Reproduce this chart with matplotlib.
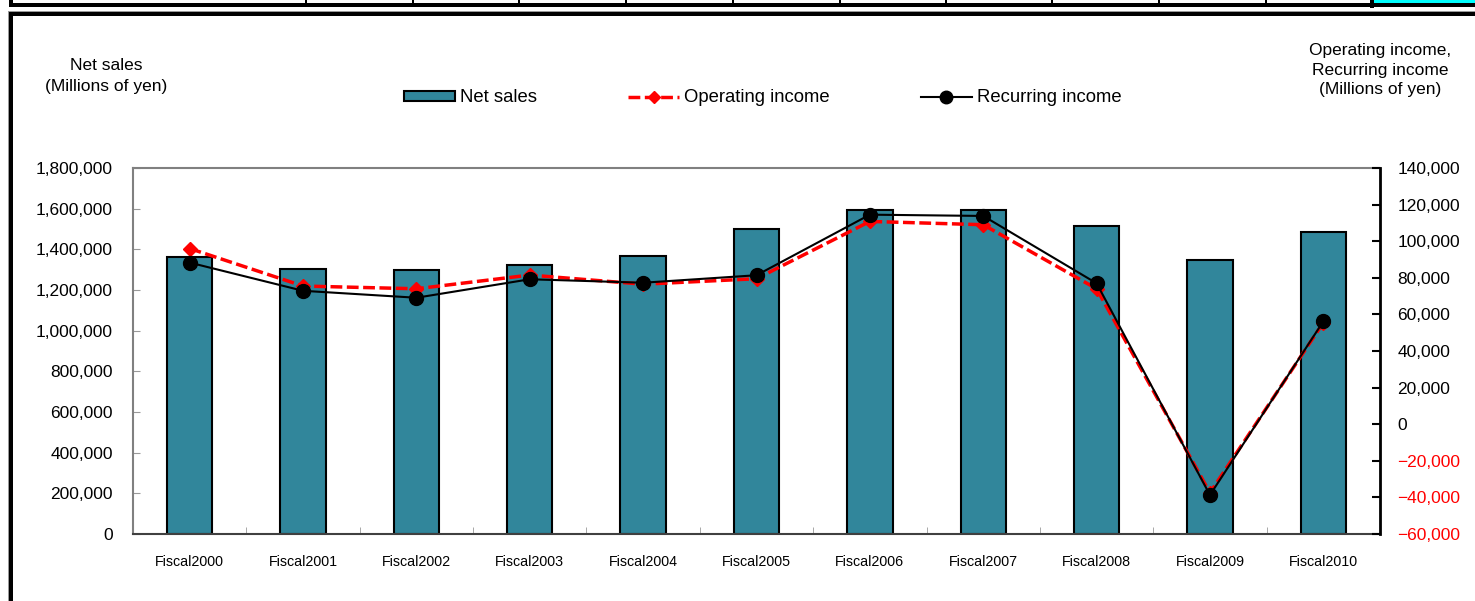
import numpy as np
import matplotlib
matplotlib.use('Agg')
import matplotlib.pyplot as plt
from matplotlib.patches import Rectangle, Patch
from matplotlib.lines import Line2D

plt.rcParams['font.family'] = ['Liberation Sans', 'DejaVu Sans']

# Data (millions of yen)
years = ['Fiscal2000', 'Fiscal2001', 'Fiscal2002', 'Fiscal2003', 'Fiscal2004', 'Fiscal2005',
         'Fiscal2006', 'Fiscal2007', 'Fiscal2008', 'Fiscal2009', 'Fiscal2010']
net_sales = [1364000, 1303000, 1298000, 1323000, 1368000, 1498000,
             1594000, 1594000, 1514000, 1350000, 1486000]
operating_income = [96000, 75500, 74000, 81500, 76500, 79500,
                    110800, 109000, 74000, -37500, 55500]
recurring_income = [88300, 72900, 69100, 79200, 77300, 81400,
                    114500, 113800, 77000, -38700, 56200]

left_ticks = list(range(0, 1800001, 200000))
right_ticks = list(range(-60000, 140001, 20000))

W, H = 1475, 601
fig = plt.figure(figsize=(W / 100, H / 100), dpi=100)


def rect(x0, y0, x1, y1, color):
    # pixel box (top-left origin) -> figure fraction rectangle
    fig.add_artist(Rectangle((x0 / W, 1 - y1 / H), (x1 - x0) / W, (y1 - y0) / H,
                             transform=fig.transFigure, facecolor=color,
                             edgecolor='none', zorder=5))


# table strip above the chart
rect(1373, 0, W, 3, '#00ffff')
rect(9, 3, W, 7, 'black')
rect(9, 0, 13, 7, 'black')
for xc in [306, 413, 519, 626, 733, 840, 946, 1052, 1159, 1266]:
    rect(xc - 1, 0, xc + 1, 7, 'black')
rect(1370, 0, 1374, 8, 'black')

# chart frame
rect(8, 11, W, 12, '#999999')
rect(9, 12, W, 16, 'black')
rect(8, 12, 9, H, '#999999')
rect(9, 12, 13, H, 'black')

ax = fig.add_axes([133 / W, 1 - 534 / H, (1380 - 133) / W, (534 - 168) / H])
x = np.arange(len(years))
ax.bar(x, net_sales, width=0.4, color='#31869B', edgecolor='black', linewidth=1.5, zorder=2)
ax.set_xlim(-0.5, len(years) - 0.5)
ax.set_ylim(0, 1800000)
ax.set_yticks(left_ticks, ['{:,}'.format(v) for v in left_ticks])
ax.set_xticks(x, years)
ax.set_xticks(np.arange(-0.5, len(years), 1), minor=True)
ax.tick_params(axis='x', which='major', length=0, pad=15, labelsize=10.3)
ax.tick_params(axis='x', which='minor', direction='in', length=5, color='#999999')
ax.tick_params(axis='y', direction='in', length=5, color='#999999', pad=14.5, labelsize=12.5)
for s in ['left', 'top']:
    ax.spines[s].set_color('#808080')
    ax.spines[s].set_linewidth(1.5)
ax.spines['bottom'].set_color('#404040')
ax.spines['bottom'].set_linewidth(1.5)
ax.spines['right'].set_visible(False)

ax2 = ax.twinx()
ax2.plot(x, operating_income, color='#ff0000', linewidth=2.5, dashes=(3.4, 1.3),
         marker='D', markersize=7, zorder=3)
ax2.plot(x, recurring_income, color='black', linewidth=1.5,
         marker='o', markersize=10, zorder=4)
ax2.set_ylim(-60000, 140000)
ax2.set_yticks(right_ticks, ['{:,}'.format(v).replace('-', '\u2212') for v in right_ticks])
ax2.tick_params(axis='y', direction='in', length=6, width=1.5, pad=12.5, labelsize=12.5)
for lab, v in zip(ax2.get_yticklabels(), right_ticks):
    lab.set_color('#ff0000' if v < 0 else 'black')
for s in ['left', 'top', 'bottom']:
    ax2.spines[s].set_visible(False)
ax2.spines['right'].set_color('black')
ax2.spines['right'].set_linewidth(2)

fig.text(106 / W, 1 - 76 / H, 'Net sales\n(Millions of yen)', ha='center', va='center',
         fontsize=12.5, linespacing=1.55)
fig.text(1380 / W, 1 - 70 / H, 'Operating income,\nRecurring income\n(Millions of yen)',
         ha='center', va='center', fontsize=12.5, linespacing=1.4)

handles = [
    Patch(facecolor='#31869B', edgecolor='black', linewidth=1.5),
    Line2D([], [], color='#ff0000', linewidth=2.5, dashes=(3.4, 1.3), marker='D', markersize=6),
    Line2D([], [], color='black', linewidth=1.5, marker='o', markersize=9),
]
fig.legend(handles, ['Net sales', 'Operating income', 'Recurring income'], ncol=3,
           frameon=False, fontsize=13.3, handlelength=2.75, handleheight=0.5,
           handletextpad=0.27, columnspacing=4.95, borderpad=0, borderaxespad=0,
           loc='center left', bbox_to_anchor=(404 / W, 1 - 98 / H))

fig.savefig('out.png', dpi=100)
